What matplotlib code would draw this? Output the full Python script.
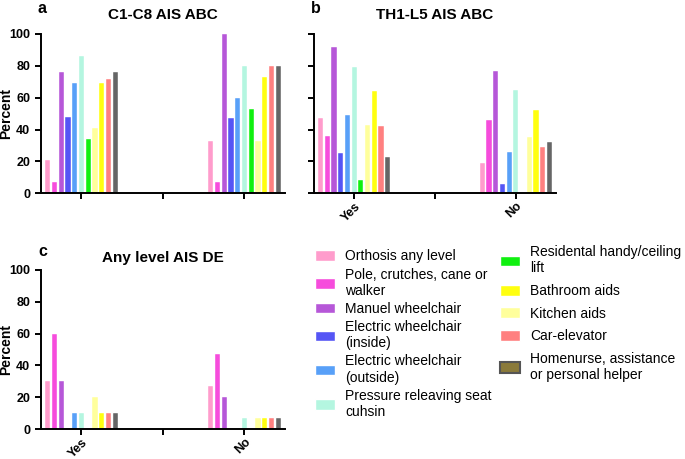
#!/usr/bin/env python3
"""Assistive device use by injury level, three panel bar chart."""

import matplotlib

matplotlib.use("Agg")
import matplotlib.pyplot as plt
import numpy as np
from matplotlib.patches import Patch

plt.rcParams["font.family"] = ["Liberation Sans", "DejaVu Sans"]

devices = [
    "Orthosis any level",
    "Pole, crutches, cane or\nwalker",
    "Manuel wheelchair",
    "Electric wheelchair\n(inside)",
    "Electric wheelchair\n(outside)",
    "Pressure releaving seat\ncuhsin",
    "Residental handy/ceiling\nlift",
    "Kitchen aids",
    "Bathroom aids",
    "Car-elevator",
    "Homenurse, assistance\nor personal helper",
]
colors = [
    "#ff9ccc", "#f64cdc", "#b657d8", "#5555f5", "#58a0f8", "#b4f6e0",
    "#10f010", "#ffff9c", "#ffff10", "#ff8080", "#666666",
]
groups = ["Yes", "", "No"]
legend_col1 = [0, 1, 2, 3, 4, 5]
legend_col2 = [6, 8, 7, 9, 10]

# percent per device, order as in `devices`
a_yes = [21, 7, 76, 48, 69, 86, 34, 41, 69, 72, 76]
a_no = [33, 7, 100, 47, 60, 80, 53, 33, 73, 80, 80]
b_yes = [47, 36, 92, 25, 49, 79, 8, 43, 64, 42, 23]
b_no = [19, 46, 77, 6, 26, 65, 0, 35, 52, 29, 32]
c_yes = [30, 60, 30, 0, 10, 10, 0, 20, 10, 10, 10]
c_no = [27, 47, 20, 0, 0, 7, 0, 7, 7, 7, 7]

panels = [
    ("a", "C1-C8 AIS ABC", a_yes, a_no, [0.0594, 0.579, 0.357, 0.347], True, False, 10.5),
    ("b", "TH1-L5 AIS ABC", b_yes, b_no, [0.458, 0.579, 0.354, 0.347], False, True, 10.5),
    ("c", "Any level AIS DE", c_yes, c_no, [0.0594, 0.065, 0.357, 0.347], True, True, 5.5),
]

fig = plt.figure(figsize=(6.85, 4.59), dpi=100)

slot = 0.083
offsets = (np.arange(len(devices)) - (len(devices) - 1) / 2) * slot
for letter, title, yes, no, rect, show_y, show_x, tpad in panels:
    ax = fig.add_axes(rect)
    for i, color in enumerate(colors):
        ax.bar(
            [0 + offsets[i], 2 + offsets[i]],
            [yes[i], no[i]],
            width=0.064,
            color=color,
            edgecolor="white",
            linewidth=0.3,
        )
    ax.set_xlim(-0.5, 2.5)
    ax.set_ylim(0, 100)
    ax.set_yticks(range(0, 101, 20))
    ax.set_xticks([0, 1, 2])
    for side in ("top", "right"):
        ax.spines[side].set_visible(False)
    for side in ("left", "bottom"):
        ax.spines[side].set_linewidth(1.4)
    ax.tick_params(width=1.4, length=4, labelsize=9)
    ax.tick_params(axis="x", pad=1)
    if show_y:
        ax.set_yticklabels([str(v) for v in range(0, 101, 20)], fontweight="bold")
        ax.set_ylabel("Percent", fontsize=10, fontweight="bold")
        ax.yaxis.set_label_coords(-0.112, 0.5)
    else:
        ax.set_yticklabels([])
    if show_x:
        ax.set_xticklabels(groups, rotation=45, ha="right", rotation_mode="anchor",
                           fontweight="bold", fontsize=9)
    else:
        ax.set_xticklabels([])
    ax.set_title(title, fontsize=11, fontweight="bold", pad=tpad)
    ax.annotate(letter, xy=(0, 1), xycoords="axes fraction",
                xytext=(-2, tpad + 8), textcoords="offset points",
                fontsize=11.5, fontweight="bold", ha="left", va="center")

handles = [Patch(facecolor=c, edgecolor="white") for c in colors]
handles[-1] = Patch(facecolor="#8a7a3a", edgecolor="#555555", linewidth=1.5)
legend_style = dict(
    loc="upper left",
    frameon=False,
    fontsize=10,
    handlelength=1.45,
    handleheight=0.8,
    handletextpad=0.75,
)
fig.legend(
    [handles[i] for i in legend_col1],
    [devices[i] for i in legend_col1],
    bbox_to_anchor=(0.441, 0.484),
    labelspacing=0.3,
    **legend_style,
)
fig.legend(
    [handles[i] for i in legend_col2],
    [devices[i] for i in legend_col2],
    bbox_to_anchor=(0.711, 0.493),
    labelspacing=0.62,
    **legend_style,
)

fig.savefig("out.png", dpi=100)
